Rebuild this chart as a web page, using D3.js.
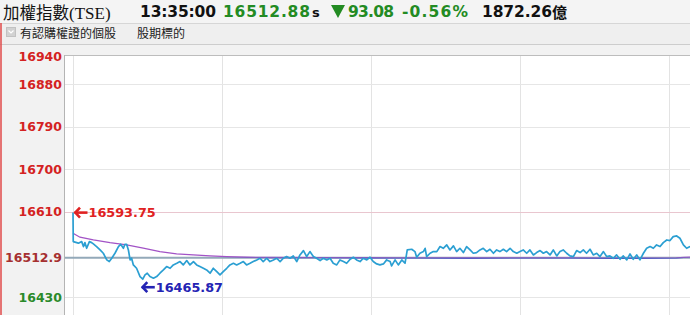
<!DOCTYPE html>
<html>
<head>
  <meta charset="utf-8" />
  <title>加權指數</title>
  <script src="https://cdnjs.cloudflare.com/ajax/libs/d3/7.8.5/d3.min.js"></script>
  <style>
    html, body { margin: 0; padding: 0; background: #f2f2f2; overflow: hidden; }
    svg { display: block; }
  </style>
</head>
<body>
<div id="chart"></div>
<script>
  // ---- data ----
  var title = "加權指數";
  var titleCode = "(TSE)";
  var quoteTime = "13:35:00";
  var quotePrice = "16512.88";
  var quoteChange = "93.08";
  var quotePct = "-0.56%";
  var quoteVolume = "1872.26";
  var volumeUnit = "億";
  var options = ["有認購權證的個股", "股期標的"];

  var yTicks = [16940, 16880, 16790, 16700, 16610, 16512.9, 16430];
  var yTickLabels = ["16940", "16880", "16790", "16700", "16610", "16512.9", "16430"];
  var refValue = 16512.9;
  var upperValue = 16610;
  var highLabel = "16593.75";
  var lowLabel = "16465.87";

  // minutes after 09:00
  var hourTicks = [0, 60, 120, 180, 240];

  var priceMin = [0, 0.1, 1.5, 2.2, 3.5, 4.2, 4.8, 5.5, 6.6, 7.5, 8.2, 9.5, 10.9, 12.2, 13.6, 14.6,
    15.6, 16.9, 18.3, 19.2, 20.3, 20.9, 21.6, 22.3, 23.0, 23.6, 24.3, 25.6, 27.0, 28.1, 29.0, 29.9,
    31.0, 32.4, 33.7, 35.0, 36.4, 37.7, 39.1, 40.4, 41.8, 43.1, 44.4, 45.8, 47.1, 48.5, 49.8, 51.1,
    52.5, 53.8, 55.2, 56.5, 57.9, 59.2, 60.5, 61.9, 63.2, 64.6, 65.9, 67.3, 68.6, 69.9, 71.3, 72.6,
    74.0, 75.3, 76.6, 78.0, 79.3, 80.7, 82.0,
    83.4, 84.7, 86.0, 87.4, 88.7, 90.1, 91.4, 92.8, 94.1, 95.4, 96.8, 98.1, 99.5, 100.8, 102.2, 103.5,
    104.8, 106.2, 107.5, 108.9, 110.2, 111.6, 112.9, 114.2, 115.6, 116.9, 118.3, 119.6, 120.9, 122.3,
    123.6, 125.0, 126.3, 127.7, 128.3, 129.7, 131.0, 132.4, 133.7, 134.6, 136.4, 137.7, 138.4, 139.7,
    141.1, 141.8, 142.4, 143.8, 145.1, 146.5, 147.8, 149.1, 150.5, 151.8, 153.2, 154.5, 155.8, 157.2,
    158.5,
    159.9, 161.2, 162.5, 163.9, 165.2, 166.6, 167.9, 169.3, 170.6, 171.9, 173.3, 174.6, 176.0, 177.3,
    178.7, 180.0, 181.3, 182.7, 184.0, 185.4, 186.7, 188.1, 189.4, 190.7, 192.1, 193.4, 194.8, 196.1,
    197.4, 198.8, 200.1, 201.5, 202.8, 204.2, 205.5, 206.8, 208.2, 209.5, 210.9, 212.2, 213.6, 214.9,
    216.2, 217.6, 218.9, 220.3, 221.6, 223.0, 224.3, 225.6, 227.0, 228.3, 229.7, 231.0, 232.4, 233.7,
    235.0, 236.4, 237.7, 239.1, 240.4, 241.7, 243.1, 244.4, 245.8, 247.1, 248.5];

  var priceVal = [16608.6, 16547.2, 16545.1, 16543.7, 16547.2, 16536.7, 16545.1, 16533.1, 16547.2,
    16545.1, 16542.3, 16536.7, 16529.6, 16522.6, 16508.5, 16505.0, 16512.0, 16522.6, 16536.7, 16541.6,
    16533.1, 16541.6, 16541.6, 16529.6, 16508.5, 16512.0, 16497.9, 16490.8, 16473.2, 16467.6, 16476.7,
    16480.3, 16473.2, 16469.7, 16473.2, 16480.3, 16487.3, 16494.4, 16490.8, 16497.9, 16501.4, 16505.0,
    16497.9, 16507.1, 16497.9, 16505.0, 16497.9, 16494.4, 16490.8, 16487.3, 16480.3, 16490.8, 16483.8,
    16476.7, 16483.8, 16490.8, 16497.9, 16501.4, 16497.9, 16501.4, 16505.0, 16497.9, 16501.4, 16505.0,
    16508.5, 16512.0, 16505.0, 16512.0, 16505.0, 16508.5, 16512.0,
    16504.9, 16512.0, 16515.5, 16512.0, 16516.9, 16505.0, 16519.0, 16528.2, 16515.5, 16526.1, 16515.5,
    16512.0, 16507.1, 16512.0, 16508.5, 16512.0, 16501.4, 16497.9, 16508.5, 16505.0, 16501.4, 16509.9,
    16514.1, 16508.5, 16505.0, 16512.0, 16508.5, 16514.1, 16505.0, 16500.0, 16497.9, 16500.0, 16508.5,
    16505.0, 16495.8, 16508.5, 16497.9, 16508.5, 16501.4, 16529.6, 16531.0, 16526.1, 16514.1, 16522.6,
    16526.1, 16533.1, 16515.5, 16522.6, 16526.1, 16526.1, 16536.7, 16533.1, 16540.2, 16529.6, 16538.1,
    16526.1, 16533.1, 16524.0, 16536.7,
    16529.6, 16522.6, 16524.0, 16529.6, 16533.1, 16526.1, 16531.0, 16522.6, 16529.6, 16526.1, 16531.0,
    16526.1, 16533.1, 16526.1, 16522.6, 16526.1, 16529.6, 16522.6, 16529.6, 16519.0, 16524.0, 16528.2,
    16522.6, 16526.1, 16519.0, 16529.6, 16516.9, 16526.1, 16529.6, 16522.6, 16516.9, 16515.5, 16528.2,
    16524.0, 16529.6, 16522.6, 16531.0, 16519.0, 16522.6, 16515.5, 16526.1, 16515.5, 16516.9, 16512.0,
    16519.0, 16509.9, 16516.9, 16508.5, 16521.1, 16509.9, 16519.0, 16508.5, 16522.6, 16533.1, 16536.7,
    16533.1, 16540.2, 16536.7, 16545.1, 16550.7, 16549.4, 16557.8, 16559.2, 16554.3, 16540.2, 16533.1,
    16536.7];

  var avgMin = [0, 2.8, 8.2, 14.9, 21.6, 28.3, 35.0, 41.7, 48.4, 55.2, 61.9, 69.9, 80, 100, 120, 130,
    140, 160, 180, 200, 215, 230, 243, 246, 248.5];
  var avgVal = [16564.9, 16556.5, 16550.7, 16545.0, 16540.2, 16533.2, 16526.0, 16521.1, 16519.0,
    16516.9, 16515.4, 16514.1, 16513.6, 16513.3, 16513.1, 16512.9, 16512.6, 16512.5, 16512.8, 16512.9,
    16512.4, 16512.3, 16512.6, 16514.0, 16514.5];

  // ---- layout ----
  var width = 690, height = 315;
  var plotLeft = 65, plotTop = 55;
  var numFont = "'DejaVu Sans', Verdana, sans-serif";

  var x = d3.scaleLinear().domain([0, 270]).range([73, 743.5]);
  var y = d3.scaleLinear().domain([16430, 16940]).range([297, 56]);

  var svg = d3.select("#chart")
    .append("svg")
    .attr("width", width)
    .attr("height", height);

  // header rows
  svg.append("rect").attr("x", 0).attr("y", 0).attr("width", width).attr("height", 23).attr("fill", "#f4f4f4");
  svg.append("rect").attr("x", 0).attr("y", 23).attr("width", width).attr("height", 21).attr("fill", "#efefef");
  svg.append("line").attr("x1", 0).attr("x2", width).attr("y1", 23.5).attr("y2", 23.5).attr("stroke", "#d6d6d6");
  svg.append("line").attr("x1", 0).attr("x2", width).attr("y1", 44.5).attr("y2", 44.5).attr("stroke", "#cdcdcd");

  svg.append("text")
    .attr("x", 3).attr("y", 19)
    .attr("font-family", "'Noto Sans CJK TC', sans-serif")
    .attr("font-size", 16.5)
    .attr("fill", "#111")
    .text(title)
    .append("tspan")
    .attr("font-family", "'Liberation Serif', serif")
    .attr("font-size", 17)
    .text(titleCode);

  var green = "#238b23";
  // [x, text, colour, width]
  var headParts = [
    [140, quoteTime, "#111", 76],
    [223, quotePrice, green, 87],
    [348, quoteChange, green, 46],
    [402, quotePct, green, 66],
    [482, quoteVolume, "#111", 70]
  ];
  var head = svg.append("g")
    .attr("font-family", numFont)
    .attr("font-weight", "bold")
    .attr("font-size", 15.5);
  head.selectAll("text")
    .data(headParts)
    .enter().append("text")
    .attr("x", d => d[0])
    .attr("y", 17)
    .attr("fill", d => d[2])
    .attr("textLength", d => d[3])
    .attr("lengthAdjust", "spacing")
    .text(d => d[1]);

  head.append("text").attr("x", 552).attr("y", 18)
    .attr("font-family", "'Noto Sans CJK TC', sans-serif")
    .attr("font-size", 15).attr("fill", "#111").text(volumeUnit);
  head.append("text").attr("x", 312).attr("y", 17).attr("font-size", 13).attr("fill", "#111").text("s");
  head.append("path")
    .attr("d", "M331,5 L345,5 L338,18 Z")
    .attr("fill", green);

  // option row
  svg.append("rect").attr("x", 6.5).attr("y", 27.5).attr("width", 9).attr("height", 9)
    .attr("fill", "#d2d2d2").attr("stroke", "#c2c2c2");
  svg.append("path").attr("d", "M8.5,30.5 L11,33 L13.5,30.5")
    .attr("fill", "none").attr("stroke", "#fff").attr("stroke-width", 1.2);
  svg.selectAll(".opt")
    .data(options)
    .enter().append("text")
    .attr("class", "opt")
    .attr("x", (d, i) => i == 0 ? 20 : 137)
    .attr("y", 38)
    .attr("font-family", "'Noto Sans CJK TC', sans-serif")
    .attr("font-size", 12)
    .attr("fill", "#222")
    .text(d => d);

  // left red edge
  svg.append("line").attr("x1", 1).attr("x2", 1).attr("y1", 23).attr("y2", height)
    .attr("stroke", "#e04a4a").attr("stroke-width", 1.5);

  // plot area
  svg.append("rect")
    .attr("x", plotLeft).attr("y", plotTop)
    .attr("width", width - plotLeft).attr("height", height - plotTop)
    .attr("fill", "#fff");

  svg.append("g").selectAll("line")
    .data(hourTicks)
    .enter().append("line")
    .attr("x1", d => x(d) + 0.5).attr("x2", d => x(d) + 0.5)
    .attr("y1", plotTop).attr("y2", height)
    .attr("stroke", "#e3e3e3");

  svg.append("g").selectAll("line")
    .data(yTicks.filter(d => d != refValue && d != upperValue && d != 16940))
    .enter().append("line")
    .attr("x1", plotLeft).attr("x2", width)
    .attr("y1", d => Math.round(y(d)) + 0.5).attr("y2", d => Math.round(y(d)) + 0.5)
    .attr("stroke", "#e6e6e6");

  svg.append("line")
    .attr("x1", plotLeft).attr("x2", width)
    .attr("y1", Math.round(y(upperValue)) + 0.5).attr("y2", Math.round(y(upperValue)) + 0.5)
    .attr("stroke", "#e9c6cf");

  svg.append("line").attr("x1", plotLeft - 0.5).attr("x2", plotLeft - 0.5).attr("y1", plotTop).attr("y2", height)
    .attr("stroke", "#b4b4b4");
  svg.append("line").attr("x1", plotLeft).attr("x2", width).attr("y1", plotTop + 0.5).attr("y2", plotTop + 0.5)
    .attr("stroke", "#bdbdbd");

  svg.append("line")
    .attr("x1", plotLeft).attr("x2", width)
    .attr("y1", y(refValue)).attr("y2", y(refValue))
    .attr("stroke", "#93a9b9").attr("stroke-width", 2);

  // average line: purple above the reference, blue below
  var avgData = avgMin.map((m, i) => [m, avgVal[i]]);
  var avgLine = d3.line().x(d => x(d[0])).y(d => y(d[1]));

  var defs = svg.append("defs");
  defs.append("clipPath").attr("id", "above")
    .append("rect").attr("x", 0).attr("y", 0).attr("width", width).attr("height", y(refValue));
  defs.append("clipPath").attr("id", "below")
    .append("rect").attr("x", 0).attr("y", y(refValue)).attr("width", width).attr("height", height);

  svg.append("path").datum(avgData)
    .attr("d", avgLine)
    .attr("clip-path", "url(#above)")
    .attr("fill", "none").attr("stroke", "#a253c6").attr("stroke-width", 1.3);
  svg.append("path").datum(avgData)
    .attr("d", avgLine)
    .attr("clip-path", "url(#below)")
    .attr("fill", "none").attr("stroke", "#3b3bc4").attr("stroke-width", 1.3);

  // price line
  var priceData = priceMin.map((m, i) => [m, priceVal[i]]);
  svg.append("path").datum(priceData)
    .attr("d", d3.line().x(d => x(d[0])).y(d => y(d[1])))
    .attr("fill", "none")
    .attr("stroke", "#2b9fd2")
    .attr("stroke-width", 1.7)
    .attr("stroke-linejoin", "round");

  // high / low marks
  var hi = d3.greatest(priceData, d => d[1]);
  var lo = d3.least(priceData, d => d[1]);

  function arrowMark(tx, ty, label, colour) {
    var g = svg.append("g").attr("stroke", colour).attr("stroke-width", 2.6).attr("fill", "none");
    g.append("path").attr("d", "M" + tx + "," + ty + "H" + (tx + 13));
    g.append("path").attr("d", "M" + (tx + 5.5) + "," + (ty - 5) + "L" + (tx + 0.8) + "," + ty + "L" + (tx + 5.5) + "," + (ty + 5));
    svg.append("text")
      .attr("x", tx + 14).attr("y", ty)
      .attr("dy", "0.37em")
      .attr("font-family", numFont)
      .attr("font-weight", "bold")
      .attr("font-size", 12.8)
      .attr("fill", colour)
      .text(label);
  }
  arrowMark(x(hi[0]) + 1.5, y(hi[1]), highLabel, "#e02222");
  arrowMark(x(lo[0]) - 1, y(lo[1]) + 8, lowLabel, "#2424b4");

  // y axis labels
  var yAxis = svg.append("g")
    .attr("transform", "translate(62,0)")
    .call(d3.axisLeft(y).tickValues(yTicks).tickSize(0).tickPadding(0)
      .tickFormat((d, i) => yTickLabels[i]));
  yAxis.select(".domain").remove();
  yAxis.selectAll("text")
    .attr("font-family", numFont)
    .attr("font-weight", "bold")
    .attr("font-size", 12.5)
    .attr("fill", d => d == refValue ? "#a63030" : (d < refValue ? "#2a8a2a" : "#d42222"));
</script>
</body>
</html>
